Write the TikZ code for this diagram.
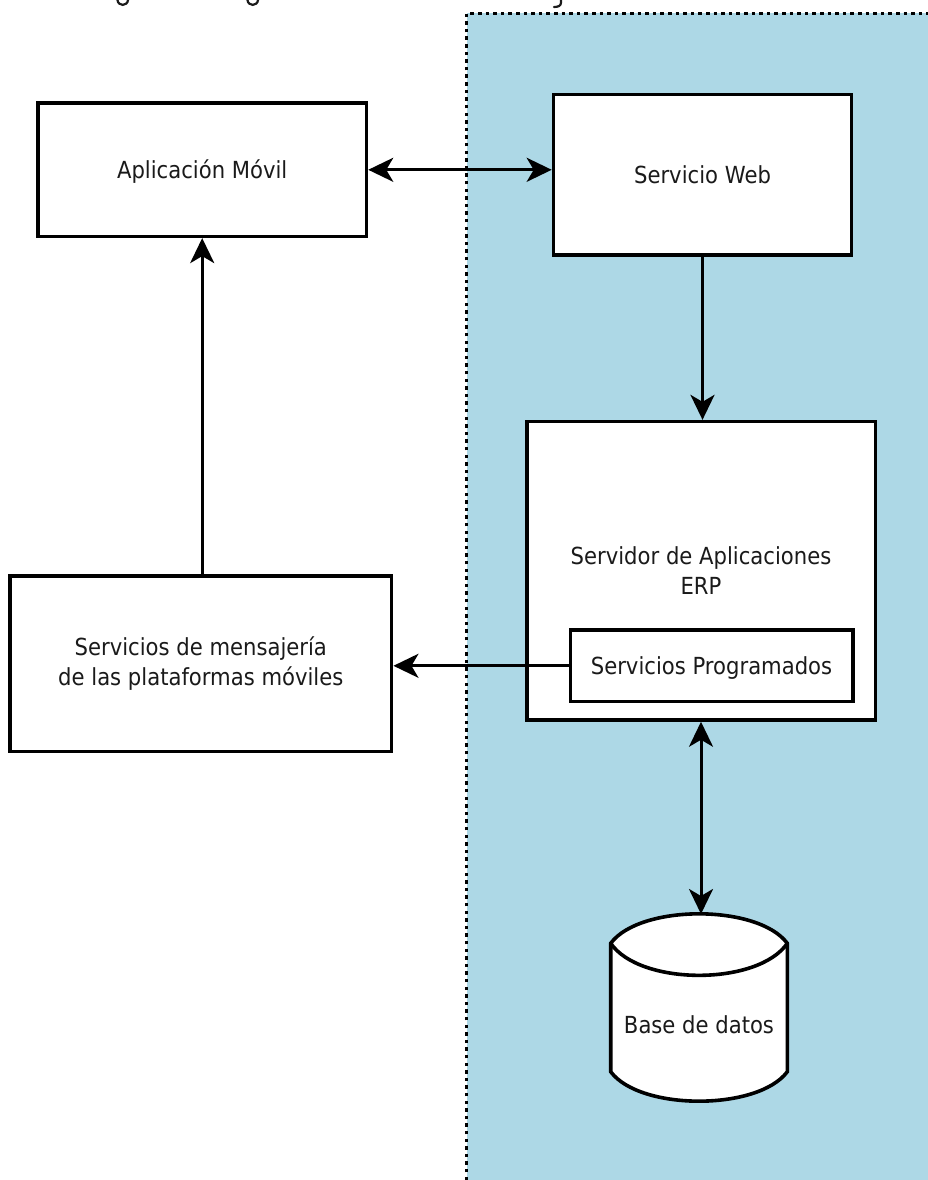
\documentclass[tikz,border=0pt]{standalone}
\usepackage{fontspec}
\setmainfont{DejaVu Sans}[FakeStretch=0.9]
\usetikzlibrary{arrows.meta}
\definecolor{zone}{RGB}{173,216,230}
\definecolor{txt}{RGB}{26,26,26}
\tikzset{
  box/.style={draw=black,line width=3.6pt,fill=white,inner sep=0pt,align=center,
    text=txt,font=\fontsize{23.5}{30}\selectfont},
  oneline/.style={text height=17pt,text depth=0pt},
  lbl/.style={inner sep=0pt,text=txt,font=\fontsize{23.5}{30}\selectfont,text height=17pt,text depth=0pt},
  conn/.style={line width=3pt,-{Stealth[length=25pt,width=24pt,inset=7pt]}},
  conn2/.style={line width=3pt,{Stealth[length=25pt,width=24pt,inset=7pt]}-{Stealth[length=25pt,width=24pt,inset=7pt]}},
  zoneborder/.style={line width=3.2pt,dash pattern=on 3.5pt off 4.1pt},
  dbline/.style={draw=black,line width=3.6pt,fill=white},
  frag/.style={line width=2.2pt,draw=txt,line cap=round}
}
\begin{document}
\begin{tikzpicture}[x=1pt,y=-1pt]
\useasboundingbox (0,0) rectangle (928,1180);
% zone
\fill[zone] (466.7,13.3) rectangle (928,1180);
\draw[zoneborder] (466.7,1180) -- (466.7,13.3) -- (928,13.3);
% cut-off caption descenders
\draw[frag] (117.5,0) .. controls (118,6.5) and (127.5,6.5) .. (128,0);
\draw[frag] (247.5,0) .. controls (248,6.5) and (257.5,6.5) .. (258,0);
\draw[frag] (561,0) -- (561,2.5) .. controls (561,6) and (558,7) .. (554,7);
% boxes
\node[box,oneline,minimum width=328.5pt,minimum height=133pt] (app) at (202.2,169.8) {Aplicación Móvil};
\node[box,oneline,minimum width=298pt,minimum height=160.5pt] (web) at (702.5,174.7) {Servicio Web};
\node[box,minimum width=381.7pt,minimum height=175.7pt] (msg) at (200.8,663.8) {Servicios de mensajería\\de las plataformas móviles};
\node[box,minimum width=348.6pt,minimum height=298.3pt] (erp) at (701,570.8) {Servidor de Aplicaciones\\ERP};
\node[box,oneline,minimum width=282.4pt,minimum height=71.7pt] (sp) at (711.5,665.8) {Servicios Programados};
% database
\draw[dbline] (610.7,943.3) .. controls (640,904) and (758,904) .. (787.3,943.3)
  -- (787.3,1071.7) .. controls (758,1111) and (640,1111) .. (610.7,1071.7) -- cycle;
\draw[line width=3.6pt] (610.7,943.3) .. controls (640,986) and (758,986) .. (787.3,943.3);
\coordinate (dbtop) at (699,914);
\node[lbl] (db) at (699,1025) {Base de datos};
% connectors
\draw[conn2] (app.east) -- (app.east -| web.west);
\draw[conn] (app.south |- msg.north) -- (app.south);
\draw[conn] (web.south) -- (web.south |- erp.north);
\draw[conn] (sp.west) -- (sp.west -| msg.east);
\draw[conn2] (erp.south) -- (erp.south |- dbtop);
\end{tikzpicture}
\end{document}
